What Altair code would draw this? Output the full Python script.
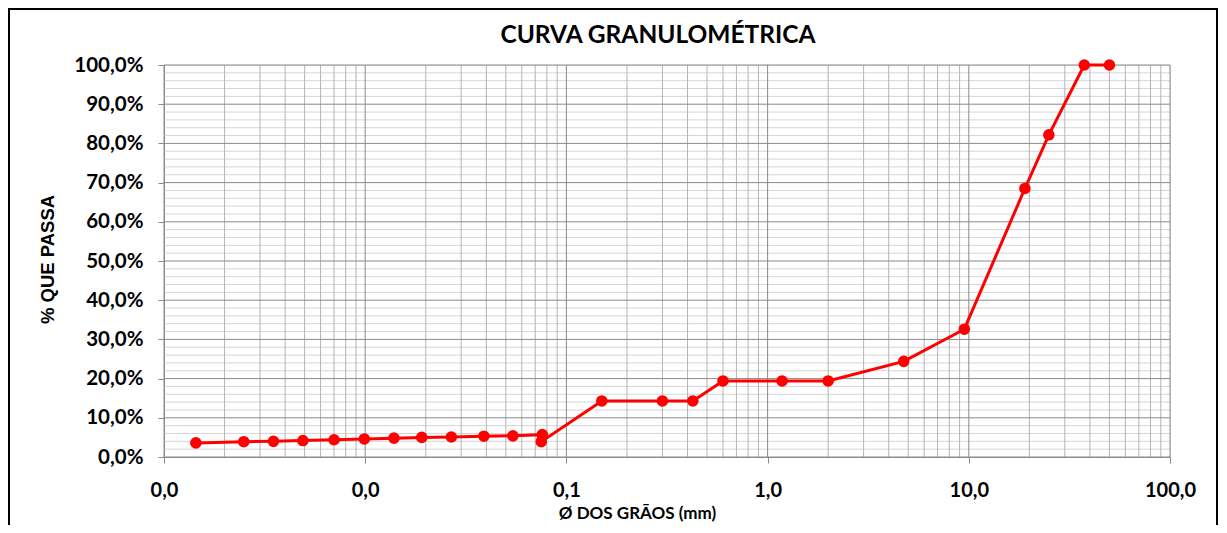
import altair as alt
import pandas as pd

# ---- data ----
diam_mm = [0.00144, 0.00249, 0.0035, 0.0049, 0.0070, 0.0099, 0.0139, 0.0191, 0.0268,
           0.0389, 0.0542, 0.0759, 0.075, 0.15, 0.30, 0.425, 0.60, 1.18, 2.0, 4.75,
           9.5, 19.0, 25.0, 37.5, 50.0]
passing_pct = [3.6, 3.9, 4.0, 4.2, 4.4, 4.6, 4.8, 5.0, 5.1, 5.3, 5.4, 5.7, 3.9,
               14.3, 14.3, 14.3, 19.4, 19.4, 19.4, 24.4, 32.6, 68.5, 82.2, 100.0, 100.0]

x_major = [0.001, 0.01, 0.1, 1, 10, 100]
x_minor = [m * d for d in [0.001, 0.01, 0.1, 1, 10] for m in range(2, 10)]
y_major = list(range(0, 101, 10))
y_minor = [v for v in range(0, 101, 2) if v % 10 != 0]

title_text = "CURVA GRANULOMÉTRICA"
y_title = "% QUE PASSA"
x_title = "Ø DOS GRÃOS (mm)"

df = pd.DataFrame({"d": diam_mm, "p": passing_pct, "i": range(len(diam_mm))})

xscale = alt.Scale(type="log", domain=[0.001, 100], nice=False)
yscale = alt.Scale(domain=[0, 100], nice=False)

MAJOR = "#8a8a8a"
MINORV = "#b4b4b4"
MINORH = "#d6d6d6"

xaxis = alt.Axis(
    values=x_major, grid=False, labelFlush=False, labelOverlap=False,
    labelExpr="replace(format(datum.value, '.1f'), '.', ',')",
    labelFont="Lato", labelFontSize=20, labelFontWeight="bold", labelColor="black",
    labelPadding=17, tickSize=6, tickColor=MAJOR, domainColor=MAJOR,
    title=x_title, titleFont="Lato", titleFontSize=17, titleFontWeight="bold",
    titleColor="black", titleX=473, titleY=56, titleAlign="center", titleBaseline="middle",
)
yaxis = alt.Axis(
    values=y_major, grid=False, labelFlush=False, labelOverlap=False,
    labelExpr="replace(format(datum.value, '.1f'), '.', ',') + '%'",
    labelFont="Lato", labelFontSize=20.5, labelFontWeight="bold", labelColor="black",
    labelPadding=15, tickSize=6, tickColor=MAJOR, domainColor=MAJOR,
    title=y_title, titleFont="Liberation Sans", titleFontSize=18.5, titleFontWeight="bold",
    titleColor="black", titleX=-117, titleY=194, titleAngle=270, titleAlign="center",
    titleBaseline="middle",
)

grid_xmin = alt.Chart(pd.DataFrame({"d": x_minor})).mark_rule(color=MINORV, strokeWidth=1).encode(
    x=alt.X("d:Q", scale=xscale, axis=xaxis))
grid_ymin = alt.Chart(pd.DataFrame({"p": y_minor})).mark_rule(color=MINORH, strokeWidth=1).encode(
    y=alt.Y("p:Q", scale=yscale, axis=yaxis))
grid_xmaj = alt.Chart(pd.DataFrame({"d": x_major})).mark_rule(color=MAJOR, strokeWidth=1).encode(
    x=alt.X("d:Q", scale=xscale, axis=xaxis))
grid_ymaj = alt.Chart(pd.DataFrame({"p": y_major})).mark_rule(color=MAJOR, strokeWidth=1).encode(
    y=alt.Y("p:Q", scale=yscale, axis=yaxis))

base = alt.Chart(df).encode(
    x=alt.X("d:Q", scale=xscale, axis=xaxis),
    y=alt.Y("p:Q", scale=yscale, axis=yaxis),
    order=alt.Order("i:Q"),
)
line = base.mark_line(color="#ff0000", strokeWidth=3)
pts = base.mark_circle(color="#ff0000", size=135, opacity=1)

frame = alt.Chart(alt.Data(values=[{}])).mark_rect(
    filled=False, stroke="black", strokeWidth=2
).encode(x=alt.value(-155), x2=alt.value(1053), y=alt.value(-56), y2=alt.value(700))

chart = alt.layer(grid_ymin, grid_xmin, grid_ymaj, grid_xmaj, line, pts, frame).properties(
    width=1006, height=392,
    autosize="none",
    padding={"left": 156, "top": 57, "right": 49, "bottom": 68},
    title=alt.TitleParams(title_text, font="Lato", fontSize=24.5, fontWeight="bold",
                          color="black", anchor="middle", dx=-9, offset=0, dy=40),
).configure_view(stroke=None).configure(background="white")

chart.save("out.html", embed_options={"renderer": "svg", "actions": False})
